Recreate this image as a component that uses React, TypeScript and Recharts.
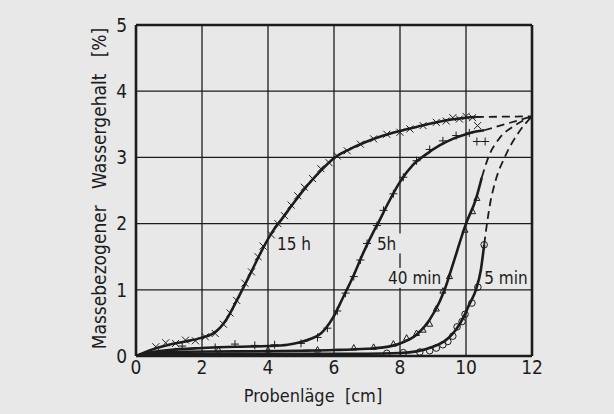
import React from "react"
import {
  ComposedChart,
  Line,
  Scatter,
  XAxis,
  YAxis,
  CartesianGrid,
  ReferenceLine,
  ReferenceDot,
} from "recharts"

// x ticks (cm) and y ticks (%)
const xTicks = [0, 2, 4, 6, 8, 10, 12]
const yTicks = [0, 1, 2, 3, 4, 5]

// fitted curves, solid part
const curve15h = [
  { x: 0, y: 0 }, { x: 0.5, y: 0.1 }, { x: 1, y: 0.17 }, { x: 1.5, y: 0.22 }, { x: 1.95, y: 0.27 },
  { x: 2.3, y: 0.33 }, { x: 2.55, y: 0.43 }, { x: 2.75, y: 0.56 }, { x: 2.95, y: 0.74 }, { x: 3.25, y: 1.03 },
  { x: 3.55, y: 1.33 }, { x: 3.85, y: 1.63 }, { x: 4.15, y: 1.89 }, { x: 4.45, y: 2.09 }, { x: 4.76, y: 2.3 },
  { x: 5.2, y: 2.58 }, { x: 5.6, y: 2.8 }, { x: 5.95, y: 2.97 }, { x: 6.5, y: 3.13 }, { x: 7, y: 3.24 },
  { x: 7.5, y: 3.33 }, { x: 8, y: 3.4 }, { x: 8.5, y: 3.46 }, { x: 9, y: 3.52 }, { x: 9.5, y: 3.57 },
  { x: 10, y: 3.6 }, { x: 10.3, y: 3.61 },
]
const curve5h = [
  { x: 0, y: 0 }, { x: 0.5, y: 0.06 }, { x: 1, y: 0.09 }, { x: 2, y: 0.12 }, { x: 3, y: 0.14 },
  { x: 4, y: 0.15 }, { x: 4.6, y: 0.17 }, { x: 5, y: 0.21 }, { x: 5.3, y: 0.26 }, { x: 5.6, y: 0.34 },
  { x: 5.97, y: 0.58 }, { x: 6.27, y: 0.88 }, { x: 6.58, y: 1.2 }, { x: 6.88, y: 1.55 }, { x: 7.18, y: 1.86 },
  { x: 7.33, y: 2.0 }, { x: 7.6, y: 2.27 }, { x: 8, y: 2.63 }, { x: 8.4, y: 2.89 }, { x: 8.8, y: 3.05 },
  { x: 9.2, y: 3.18 }, { x: 9.6, y: 3.28 }, { x: 10, y: 3.35 }, { x: 10.3, y: 3.39 }, { x: 10.55, y: 3.41 },
]
const curve40min = [
  { x: 0, y: 0 }, { x: 0.5, y: 0.04 }, { x: 1, y: 0.06 }, { x: 3, y: 0.07 }, { x: 5, y: 0.08 },
  { x: 6, y: 0.09 }, { x: 7, y: 0.11 }, { x: 7.5, y: 0.13 }, { x: 8, y: 0.19 }, { x: 8.5, y: 0.32 },
  { x: 8.9, y: 0.55 }, { x: 9.2, y: 0.82 }, { x: 9.35, y: 1.0 }, { x: 9.6, y: 1.38 }, { x: 10, y: 2.0 },
  { x: 10.3, y: 2.37 }, { x: 10.48, y: 2.7 },
]
const curve5min = [
  { x: 0, y: 0 }, { x: 1, y: 0.03 }, { x: 4, y: 0.035 }, { x: 7, y: 0.035 }, { x: 8, y: 0.045 },
  { x: 8.5, y: 0.07 }, { x: 9, y: 0.14 }, { x: 9.4, y: 0.24 }, { x: 9.7, y: 0.4 }, { x: 9.9, y: 0.56 },
  { x: 10.1, y: 0.78 }, { x: 10.3, y: 1.0 }, { x: 10.45, y: 1.3 }, { x: 10.55, y: 1.68 },
]

// extrapolated (dashed) parts towards the saturated end
const dash15h = [{ x: 10.3, y: 3.61 }, { x: 12, y: 3.62 }]
const dash5h = [{ x: 10.55, y: 3.41 }, { x: 12, y: 3.62 }]
const dash40min = [
  { x: 10.48, y: 2.7 }, { x: 10.7, y: 3.03 }, { x: 11, y: 3.28 }, { x: 11.5, y: 3.49 }, { x: 12, y: 3.62 },
]
const dash5min = [
  { x: 10.55, y: 1.68 }, { x: 10.73, y: 2.3 }, { x: 10.88, y: 2.62 }, { x: 11.2, y: 3.03 }, { x: 11.6, y: 3.38 },
  { x: 12, y: 3.62 },
]

// measured points
const pts15h = [
  { x: 0.6, y: 0.14 }, { x: 0.9, y: 0.2 }, { x: 1.2, y: 0.19 }, { x: 1.5, y: 0.24 }, { x: 1.8, y: 0.23 },
  { x: 2.1, y: 0.29 }, { x: 2.4, y: 0.34 }, { x: 2.65, y: 0.48 }, { x: 2.85, y: 0.65 }, { x: 3.05, y: 0.84 },
  { x: 3.3, y: 1.1 }, { x: 3.5, y: 1.27 }, { x: 3.7, y: 1.5 }, { x: 3.85, y: 1.66 }, { x: 4.1, y: 1.83 },
  { x: 4.3, y: 2.0 }, { x: 4.5, y: 2.12 }, { x: 4.7, y: 2.28 }, { x: 4.9, y: 2.42 }, { x: 5.1, y: 2.55 },
  { x: 5.35, y: 2.68 }, { x: 5.6, y: 2.83 }, { x: 5.85, y: 2.92 }, { x: 6.1, y: 3.02 }, { x: 6.4, y: 3.1 },
  { x: 6.8, y: 3.2 }, { x: 7.2, y: 3.28 }, { x: 7.6, y: 3.35 }, { x: 8, y: 3.38 }, { x: 8.3, y: 3.43 },
  { x: 8.7, y: 3.48 }, { x: 9.1, y: 3.53 }, { x: 9.4, y: 3.55 }, { x: 9.6, y: 3.6 }, { x: 9.8, y: 3.58 },
  { x: 10, y: 3.62 }, { x: 10.2, y: 3.6 }, { x: 10.35, y: 3.48 },
]
const pts5h = [
  { x: 1.4, y: 0.15 }, { x: 2.4, y: 0.13 }, { x: 3, y: 0.18 }, { x: 3.6, y: 0.16 }, { x: 4.2, y: 0.17 },
  { x: 5, y: 0.19 }, { x: 5.5, y: 0.28 }, { x: 5.8, y: 0.42 }, { x: 6.1, y: 0.68 }, { x: 6.35, y: 0.95 },
  { x: 6.6, y: 1.2 }, { x: 6.8, y: 1.45 }, { x: 7, y: 1.7 }, { x: 7.3, y: 1.97 }, { x: 7.5, y: 2.2 },
  { x: 7.8, y: 2.45 }, { x: 8.1, y: 2.7 }, { x: 8.5, y: 2.95 }, { x: 8.9, y: 3.12 }, { x: 9.3, y: 3.25 },
  { x: 9.7, y: 3.33 }, { x: 10.1, y: 3.37 }, { x: 10.33, y: 3.24 }, { x: 10.58, y: 3.24 },
]
const pts40min = [
  { x: 1.2, y: 0.07 }, { x: 2.5, y: 0.09 }, { x: 4, y: 0.09 }, { x: 5.5, y: 0.09 }, { x: 6.6, y: 0.12 },
  { x: 7.2, y: 0.13 }, { x: 7.8, y: 0.18 }, { x: 8.2, y: 0.27 }, { x: 8.5, y: 0.34 }, { x: 8.7, y: 0.39 },
  { x: 8.9, y: 0.48 }, { x: 9.1, y: 0.71 }, { x: 9.3, y: 0.98 }, { x: 9.5, y: 1.2 }, { x: 9.97, y: 1.9 },
  { x: 10.2, y: 2.18 }, { x: 10.33, y: 2.38 },
]
const pts5min = [
  { x: 7.6, y: 0.04 }, { x: 8.1, y: 0.05 }, { x: 8.6, y: 0.06 }, { x: 8.9, y: 0.08 }, { x: 9.1, y: 0.12 },
  { x: 9.3, y: 0.17 }, { x: 9.45, y: 0.22 }, { x: 9.6, y: 0.3 }, { x: 9.73, y: 0.44 }, { x: 9.88, y: 0.52 },
  { x: 9.97, y: 0.63 }, { x: 10.18, y: 0.8 }, { x: 10.36, y: 1.04 }, { x: 10.55, y: 1.68 },
]

const INK = "#1c1c1c"
const BG = "#e8e8e8"
const FONT = "'Liberation Sans Narrow', 'DejaVu Sans Condensed', 'Liberation Sans', sans-serif"

const Cross = ({ cx, cy }: any) => (
  <path d={`M${cx - 3.5},${cy - 3.5}L${cx + 3.5},${cy + 3.5}M${cx - 3.5},${cy + 3.5}L${cx + 3.5},${cy - 3.5}`} stroke={INK} strokeWidth={1} />
)
const Plus = ({ cx, cy }: any) => (
  <path d={`M${cx - 4},${cy}L${cx + 4},${cy}M${cx},${cy - 4}L${cx},${cy + 4}`} stroke={INK} strokeWidth={1} />
)
const Tri = ({ cx, cy }: any) => (
  <path d={`M${cx},${cy - 3.5}L${cx + 3},${cy + 2}L${cx - 3},${cy + 2}Z`} fill="none" stroke={INK} strokeWidth={1} />
)
const Circ = ({ cx, cy }: any) => <circle cx={cx} cy={cy} r={3.3} fill="none" stroke={INK} strokeWidth={1} />

const CurveLabel = ({ viewBox, value, w }: any) => {
  const x = viewBox.cx ?? viewBox.x
  const y = viewBox.cy ?? viewBox.y
  return (
    <g>
      {w ? <rect x={x - 2} y={y - 10} width={w} height={20} fill={BG} /> : null}
      <text x={x} y={y} dy="0.36em" fill={INK} fontSize={17} fontFamily={FONT} style={{ whiteSpace: "pre" }}>
        {value}
      </text>
    </g>
  )
}

export default function App() {
  return (
    <div style={{ position: "absolute", left: 0, top: 0, width: 614, height: 414, background: BG }}>
      <ComposedChart width={614} height={414} margin={{ top: 25, right: 82, bottom: 28, left: 76 }}>
        <CartesianGrid stroke={INK} strokeWidth={1.3} />
        <XAxis
          type="number"
          dataKey="x"
          domain={[0, 12]}
          ticks={xTicks}
          allowDataOverflow
          height={30}
          tickLine={false}
          tickSize={4}
          tickMargin={1}
          axisLine={{ stroke: INK, strokeWidth: 2.6 }}
          tick={{ fill: INK, fontSize: 19, fontFamily: FONT }}
          label={{
            content: ({ viewBox }: any) => (
              <text x={viewBox.x + viewBox.width / 2 - 21} y={viewBox.y + 46} textAnchor="middle" fill={INK} fontSize={18} fontFamily={FONT} style={{ whiteSpace: "pre" }}>
                {"Probenläge  [cm]"}
              </text>
            ),
          }}
        />
        <YAxis
          type="number"
          dataKey="y"
          domain={[0, 5]}
          ticks={yTicks}
          allowDataOverflow
          width={60}
          tickLine={false}
          tickSize={6}
          tickMargin={3}
          axisLine={{ stroke: INK, strokeWidth: 2.6 }}
          tick={{ fill: INK, fontSize: 19, fontFamily: FONT }}
          label={{
            content: ({ viewBox }: any) => {
              const cx = viewBox.x + 23
              const cy = viewBox.y + viewBox.height / 2 - 2
              return (
                <text x={cx} y={cy} transform={`rotate(-90 ${cx} ${cy})`} textAnchor="middle" dy="0.36em" fill={INK} fontSize={19} fontFamily={FONT} style={{ whiteSpace: "pre" }}>
                  {"Massebezogener   Wassergehalt   [%]"}
                </text>
              )
            },
          }}
        />
        <ReferenceLine x={12} stroke={INK} strokeWidth={2.6} />
        <ReferenceLine y={5} stroke={INK} strokeWidth={2.6} />

        <ReferenceDot x={4.27} y={1.7} r={0} label={{ value: "15 h", content: (p: any) => <CurveLabel {...p} /> }} />
        <ReferenceDot x={7.3} y={1.7} r={0} label={{ value: "5h", content: (p: any) => <CurveLabel {...p} w={28} /> }} />
        <ReferenceDot x={7.64} y={1.18} r={0} label={{ value: "40 min", content: (p: any) => <CurveLabel {...p} w={54} /> }} />
        <ReferenceDot x={10.55} y={1.18} r={0} label={{ value: "5 min", content: (p: any) => <CurveLabel {...p} /> }} />

        <Line data={curve15h} dataKey="y" type="monotone" stroke={INK} strokeWidth={2.6} dot={false} isAnimationActive={false} />
        <Line data={curve5h} dataKey="y" type="monotone" stroke={INK} strokeWidth={2.6} dot={false} isAnimationActive={false} />
        <Line data={curve40min} dataKey="y" type="monotone" stroke={INK} strokeWidth={2.6} dot={false} isAnimationActive={false} />
        <Line data={curve5min} dataKey="y" type="monotone" stroke={INK} strokeWidth={2.6} dot={false} isAnimationActive={false} />

        <Line data={dash15h} dataKey="y" type="monotone" stroke={INK} strokeWidth={1.8} strokeDasharray="8 5" dot={false} isAnimationActive={false} />
        <Line data={dash5h} dataKey="y" type="monotone" stroke={INK} strokeWidth={1.8} strokeDasharray="8 5" dot={false} isAnimationActive={false} />
        <Line data={dash40min} dataKey="y" type="monotone" stroke={INK} strokeWidth={1.8} strokeDasharray="8 5" dot={false} isAnimationActive={false} />
        <Line data={dash5min} dataKey="y" type="monotone" stroke={INK} strokeWidth={1.8} strokeDasharray="8 5" dot={false} isAnimationActive={false} />

        <Scatter data={pts15h} dataKey="y" shape={Cross} isAnimationActive={false} />
        <Scatter data={pts5h} dataKey="y" shape={Plus} isAnimationActive={false} />
        <Scatter data={pts40min} dataKey="y" shape={Tri} isAnimationActive={false} />
        <Scatter data={pts5min} dataKey="y" shape={Circ} isAnimationActive={false} />
      </ComposedChart>
    </div>
  )
}
